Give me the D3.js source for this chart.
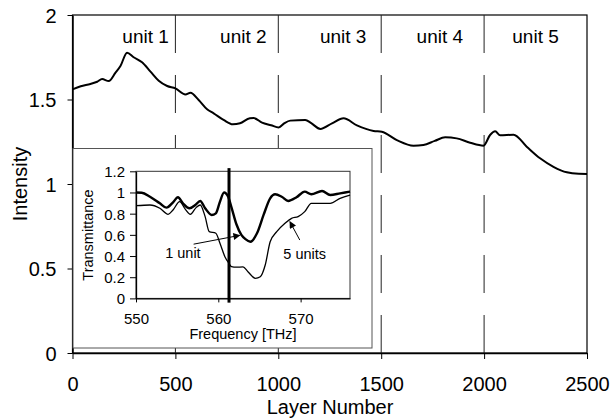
<!DOCTYPE html>
<html><head><meta charset="utf-8">
<script src="https://cdn.jsdelivr.net/npm/d3@7"></script>
<style>
body{margin:0;background:#fff;}
text{font-family:"Liberation Sans",Arial,sans-serif;fill:#000;}
</style></head>
<body>
<svg id="c" width="611" height="420"></svg>
<script>
// ---- main chart data ----
const layerNumbers = [0,40,87,120,144,176,209,233,265,297,338,379,419,460,500,549,573,613,654,686,734,779,814,862,880,921,965,1002,1030,1058,1131,1160,1204,1261,1317,1382,1463,1503,1576,1657,1705,1760,1811,1867,1932,1997,2029,2054,2078,2143,2207,2272,2337,2402,2460,2500];
const intensity    = [1.560,1.578,1.592,1.605,1.621,1.609,1.659,1.698,1.777,1.750,1.720,1.665,1.611,1.580,1.566,1.530,1.540,1.497,1.442,1.418,1.379,1.353,1.359,1.389,1.390,1.363,1.348,1.335,1.360,1.375,1.379,1.360,1.326,1.359,1.389,1.347,1.314,1.309,1.260,1.227,1.231,1.255,1.276,1.270,1.244,1.227,1.290,1.312,1.288,1.292,1.221,1.152,1.102,1.069,1.060,1.059];
const xTicks = [0,500,1000,1500,2000,2500];
const yTicks = [0,0.5,1,1.5,2];
const unitBoundaries = [500,1000,1500,2000];
const unitLabels = ["unit 1","unit 2","unit 3","unit 4","unit 5"];
const unitLabelAt = [355,830,1315,1785,2250];

// ---- inset data ----
const freq1unit = [550,550.7,551.7,552.9,553.7,554.5,555.1,555.7,556.5,557.2,557.8,558.4,559.2,559.7,560.2,560.7,561.2,561.6,562.2,562.8,563.3,563.9,564.7,565.5,566.3,566.9,567.7,568.5,569.5,570.5,571.3,572.6,573.6,574.8,576];
const trans1unit = [1.0,0.998,0.96,0.898,0.857,0.907,0.955,0.898,0.851,0.882,0.92,0.851,0.788,0.803,0.913,1.0,0.96,0.86,0.70,0.60,0.56,0.535,0.615,0.788,0.945,0.983,0.96,0.92,0.955,1.008,0.983,1.014,0.976,0.992,1.008];
const freq5units = [550,551.7,552.9,553.9,554.5,555.3,556.0,556.6,557.3,557.8,558.4,558.9,559.7,560.2,560.8,561.3,561.6,562.2,563.0,563.6,564.5,565.1,565.7,566.3,567.1,568.1,568.9,569.7,570.5,571.3,572.4,573.6,574.8,576];
const trans5units = [0.875,0.882,0.851,0.794,0.835,0.913,0.841,0.794,0.857,0.882,0.772,0.63,0.615,0.52,0.394,0.33,0.30,0.295,0.297,0.252,0.19,0.205,0.315,0.535,0.63,0.709,0.756,0.772,0.819,0.898,0.898,0.898,0.945,0.976];
const insetXTicks = [550,560,570];
const insetYTicks = [0,0.2,0.4,0.6,0.8,1,1.2];
const markerFreq = 561.3;

const svg = d3.select("#c");

// main scales
const x = d3.scaleLinear().domain([0,2500]).range([72.5,587]);
const y = d3.scaleLinear().domain([0,2]).range([353,15]);

// frame
svg.append("rect").attr("x",x(0)).attr("y",y(2)).attr("width",x(2500)-x(0)).attr("height",y(0)-y(2))
  .attr("fill","none").attr("stroke","#000").attr("stroke-width",1.2);

// unit boundary lines
svg.selectAll("line.unit").data(unitBoundaries).enter().append("line")
  .attr("x1",d=>x(d)).attr("x2",d=>x(d)).attr("y1",y(2)).attr("y2",y(0))
  .attr("stroke","#222").attr("stroke-width",1).attr("stroke-dasharray","38 22");

// unit labels
svg.selectAll("text.unit").data(unitLabels).enter().append("text")
  .attr("x",(d,i)=>x(unitLabelAt[i])).attr("y",43).attr("text-anchor","middle")
  .style("font-size","19px").text(d=>d);

// main curve
const line = d3.line().x((d,i)=>x(layerNumbers[i])).y(d=>y(d)).curve(d3.curveMonotoneX);
svg.append("path").datum(intensity).attr("d",line).attr("fill","none")
  .attr("stroke","#000").attr("stroke-width",2).attr("stroke-linejoin","round");

// axes
const xa = svg.append("g").attr("transform",`translate(0,${y(0)})`)
  .call(d3.axisBottom(x).tickValues(xTicks).tickSize(6).tickSizeOuter(0).tickFormat(d3.format("d")));
xa.selectAll("text").attr("y",38).attr("dy",0).style("font-size","20px").style("font-family","Liberation Sans, Arial");
const ya = svg.append("g").attr("transform",`translate(${x(0)},0)`)
  .call(d3.axisLeft(y).tickValues(yTicks).tickSize(5).tickPadding(11).tickSizeOuter(0).tickFormat(d=>String(d)));
ya.selectAll("text").attr("dy","0.36em").style("font-size","20px").style("font-family","Liberation Sans, Arial");
[xa,ya].forEach(g=>{g.select(".domain").attr("stroke","#000").attr("stroke-width",1.5);g.selectAll(".tick line").attr("stroke","#000");});

svg.append("text").attr("transform","translate(27,184) rotate(-90)").attr("text-anchor","middle")
  .style("font-size","20px").text("Intensity");
svg.append("text").attr("x",330).attr("y",414).attr("text-anchor","middle")
  .style("font-size","20px").text("Layer Number");

// ---- inset ----
svg.append("rect").attr("x",73).attr("y",148.5).attr("width",299).attr("height",199.5)
  .attr("fill","#fff").attr("stroke","#555").attr("stroke-width",1);

const ix = d3.scaleLinear().domain([550,576]).range([136,350]);
const iy = d3.scaleLinear().domain([0,1.2]).range([298.4,171.3]);

svg.append("rect").attr("x",ix(550)).attr("y",iy(1.2)).attr("width",ix(576)-ix(550)).attr("height",iy(0)-iy(1.2))
  .attr("fill","none").attr("stroke","#333").attr("stroke-width",1);

const ixa = svg.append("g").attr("transform",`translate(0,${iy(0)})`)
  .call(d3.axisBottom(ix).tickValues(insetXTicks).tickSize(4).tickSizeOuter(0).tickFormat(d3.format("d")));
ixa.selectAll("text").attr("y",26).attr("dy",0).style("font-size","15px").style("font-family","Liberation Sans, Arial");
const iya = svg.append("g").attr("transform",`translate(${ix(550)},0)`)
  .call(d3.axisLeft(iy).tickValues(insetYTicks).tickSize(6).tickPadding(5).tickSizeOuter(0).tickFormat(d=>String(d)));
iya.selectAll("text").attr("dy","0.36em").style("font-size","15px").style("font-family","Liberation Sans, Arial");
[ixa,iya].forEach(g=>{g.select(".domain").attr("stroke","#000").attr("stroke-width",1.3);g.selectAll(".tick line").attr("stroke","#000");});

svg.append("text").attr("transform","translate(92.5,235) rotate(-90)").attr("text-anchor","middle")
  .style("font-size","14.5px").text("Transmittance");
svg.append("text").attr("x",243).attr("y",339).attr("text-anchor","middle")
  .style("font-size","14.5px").text("Frequency [THz]");

const l1 = d3.line().x((d,i)=>ix(freq1unit[i])).y(d=>iy(d)).curve(d3.curveMonotoneX);
const l5 = d3.line().x((d,i)=>ix(freq5units[i])).y(d=>iy(d)).curve(d3.curveMonotoneX);
svg.append("path").datum(trans5units).attr("d",l5).attr("fill","none").attr("stroke","#000").attr("stroke-width",1.3);
svg.append("path").datum(trans1unit).attr("d",l1).attr("fill","none").attr("stroke","#000").attr("stroke-width",2.4);

// marker line
svg.append("line").attr("x1",ix(markerFreq)).attr("x2",ix(markerFreq)).attr("y1",iy(1.23)).attr("y2",iy(-0.04))
  .attr("stroke","#000").attr("stroke-width",3);

// arrows
const defs = svg.append("defs");
defs.append("marker").attr("id","ah").attr("viewBox","0 0 10 10").attr("refX",9).attr("refY",5)
  .attr("markerWidth",9).attr("markerHeight",7).attr("markerUnits","userSpaceOnUse").attr("orient","auto")
  .append("path").attr("d","M0,0 L10,5 L0,10 z").attr("fill","#000");
const arrows = [
  {from:[557.0,0.512], to:[562.6,0.595]},
  {from:[569.9,0.551], to:[568.7,0.724]}
];
svg.selectAll("line.arr").data(arrows).enter().append("line")
  .attr("x1",d=>ix(d.from[0])).attr("y1",d=>iy(d.from[1]))
  .attr("x2",d=>ix(d.to[0])).attr("y2",d=>iy(d.to[1]))
  .attr("stroke","#000").attr("stroke-width",1).attr("marker-end","url(#ah)");

svg.append("text").attr("x",ix(555.7)).attr("y",iy(0.38)).attr("text-anchor","middle")
  .style("font-size","14.5px").text("1 unit");
svg.append("text").attr("x",ix(570.5)).attr("y",iy(0.37)).attr("text-anchor","middle")
  .style("font-size","14.5px").text("5 units");
</script>
</body></html>
